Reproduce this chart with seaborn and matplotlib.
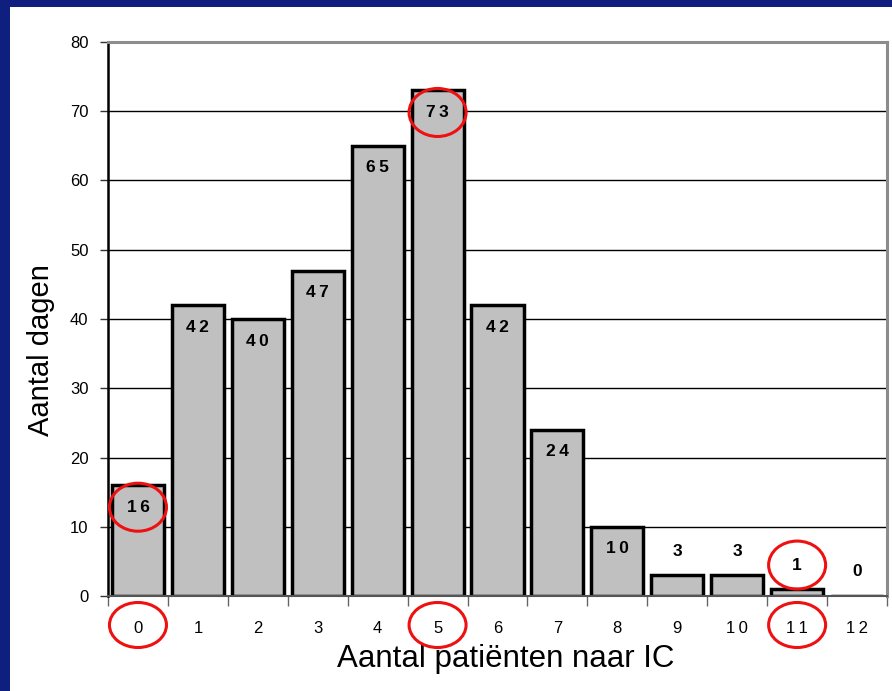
import matplotlib
matplotlib.use('Agg')
import matplotlib.pyplot as plt
from matplotlib.patches import Ellipse, Rectangle
from matplotlib.transforms import Affine2D, ScaledTranslation
import seaborn as sns
import pandas as pd
import numpy as np

# data
patients = ['0', '1', '2', '3', '4', '5', '6', '7', '8', '9', '10', '11', '12']
days = [16, 42, 40, 47, 65, 73, 42, 24, 10, 3, 3, 1, 0]
circled_bars = ['0', '5', '11']
circled_ticks = ['0', '5', '11']

plt.rcParams['font.family'] = ['Liberation Sans', 'DejaVu Sans']

def spaced(s):
    # the slide draws digits with a little gap between them
    return '\u2009'.join(s)

fig = plt.figure(figsize=(8.92, 6.91), dpi=100, facecolor='#0f1f7f')
# white slide area
fig.patches.append(Rectangle((10 / 892, 0), 1, 684 / 691, transform=fig.transFigure,
                             facecolor='white', edgecolor='none', zorder=-10))
ax = fig.add_axes([108 / 892, 95 / 691, 779 / 892, 554 / 691])

df = pd.DataFrame({'patients': patients, 'days': days})
sns.barplot(data=df, x='patients', y='days', order=patients, color='#c0c0c0',
            saturation=1, edgecolor='black', linewidth=2.5, width=0.87, ax=ax, zorder=2)

ax.set_xlim(-0.5, len(patients) - 0.5)
ax.set_ylim(0, 80)
ax.set_yticks(range(0, 81, 10))
ax.set_xticks(range(len(patients)))
ax.set_xticklabels([spaced(p) for p in patients])
ax.yaxis.grid(True, color='black', linewidth=1)
ax.set_axisbelow(True)

ax.spines['left'].set_color('black')
ax.spines['left'].set_linewidth(1.8)
for s in ['top', 'right']:
    ax.spines[s].set_color('#8c8c8c')
    ax.spines[s].set_linewidth(2.2)
ax.spines['bottom'].set_color('#555555')
ax.spines['bottom'].set_linewidth(1.5)

ax.tick_params(axis='y', length=6, width=1, color='#333333', pad=8, labelsize=12)
ax.tick_params(axis='x', which='major', length=0, pad=18, labelsize=12)
ax.set_xticks(np.arange(len(patients) + 1) - 0.5, minor=True)
ax.tick_params(axis='x', which='minor', length=7, width=1, color='#666666')

ax.set_xlabel('Aantal patiënten naar IC', fontsize=22.5, labelpad=6)
ax.set_ylabel('Aantal dagen', fontsize=21, labelpad=11)
ax.xaxis.label.set_x(0.51)
ax.yaxis.label.set_y(0.444)

# value labels: inside the bar top, above it when the bar is short
def label_offset(v):
    return -22 if v >= 10 else 24

for i, v in enumerate(days):
    ax.annotate(spaced(str(v)), (i, v), xytext=(0, label_offset(v)), textcoords='offset pixels',
                ha='center', va='center', fontweight='bold', fontsize=12.5, zorder=4)

def ring(x, y, dy, h):
    tr = Affine2D().translate(0, dy) + ScaledTranslation(x, y, ax.transData)
    e = Ellipse((0, 0), 57, h, transform=tr, fill=False, edgecolor='#ee1111',
                linewidth=2.2, clip_on=False, zorder=5)
    ax.add_artist(e)

for c in circled_bars:
    i = patients.index(c)
    ring(i, days[i], label_offset(days[i]), 48)

for c in circled_ticks:
    ring(patients.index(c), 0, -29, 45)

fig.savefig('out.png', dpi=100, facecolor=fig.get_facecolor())
